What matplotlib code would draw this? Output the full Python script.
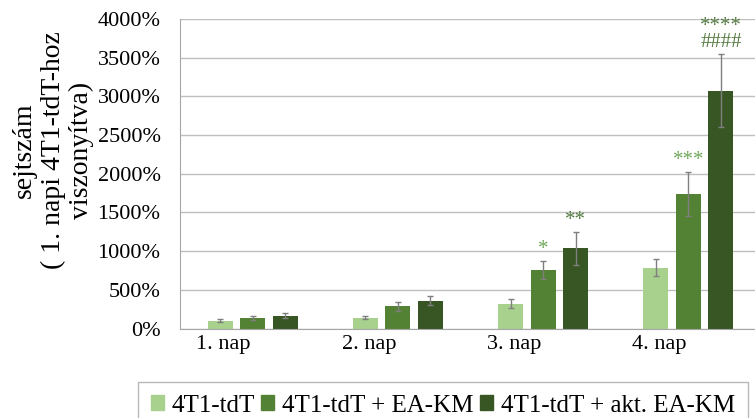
import matplotlib.pyplot as plt
from matplotlib.patches import Patch
import numpy as np

plt.rcParams['font.family'] = ['Liberation Serif', 'DejaVu Serif']

days = ["1. nap", "2. nap", "3. nap", "4. nap"]
series = ["4T1-tdT", "4T1-tdT + EA-KM", "4T1-tdT + akt. EA-KM"]
colors = ["#a9d18e", "#548235", "#375623"]

light = [100, 140, 320, 785]
green = [135, 290, 755, 1740]
dark = [168, 360, 1035, 3075]
light_err = [17, 22, 55, 112]
green_err = [28, 58, 115, 283]
dark_err = [26, 54, 215, 475]

# significance marks: (day index, series index, text)
marks = [(2, 1, "*"), (2, 2, "**"), (3, 1, "***"), (3, 2, "****\n####")]
mark_colors = ["#6fa85a", "#53793f"]

fig = plt.figure(figsize=(7.55, 4.18), dpi=100)
ax = fig.add_axes([180 / 755, 89.5 / 418, 581 / 755, 309.5 / 418])

x = np.arange(len(days))
step = 0.224
width = 0.172
values = [light, green, dark]
errs = [light_err, green_err, dark_err]
for i in range(3):
    ax.bar(x + (i - 1) * step, values[i], width, color=colors[i], zorder=2)
    ax.errorbar(x + (i - 1) * step, values[i], yerr=errs[i], fmt="none",
                ecolor="#7f7f7f", elinewidth=1, capsize=2.5, capthick=1, zorder=3)

for d, s, txt in marks:
    top = values[s][d] + errs[s][d]
    ax.text(x[d] + (s - 1) * step, top + 25, txt, ha="center", va="bottom",
            fontsize=15, color=mark_colors[s - 1], linespacing=0.8)

ax.set_xlim(-0.5, 3.5)
ax.set_ylim(0, 4000)
ax.set_yticks(np.arange(0, 4001, 500))
ax.set_yticklabels([f"{v}%" for v in range(0, 4001, 500)], fontsize=16)
ax.set_xticks(x - 0.2)
ax.set_xticklabels(days, fontsize=16)
ax.tick_params(length=0, pad=5)
ax.tick_params(axis="y", pad=14)
ax.yaxis.grid(True, color="#bfbfbf", linewidth=1, zorder=0)
ax.set_axisbelow(True)
for side in ["top", "right"]:
    ax.spines[side].set_visible(False)
ax.spines["left"].set_color("#a6a6a6")
ax.spines["bottom"].set_color("#a6a6a6")

fig.text(53 / 755, 1 - 150 / 418, "sejtszám\n( 1. napi 4T1-tdT-hoz\nviszonyítva)",
         rotation=90, ha="center", va="center", fontsize=20, linespacing=1.2)

handles = [Patch(color=c) for c in colors]
leg = fig.legend(handles, series, loc="upper left", ncol=3,
                 bbox_to_anchor=(138 / 755, 1 - 382 / 418), fontsize=18,
                 frameon=True, fancybox=False, handlelength=0.52, handleheight=0.52,
                 handletextpad=0.3, columnspacing=0.28, borderpad=0.5, borderaxespad=0)
leg.get_frame().set_edgecolor("#a6a6a6")
leg.get_frame().set_linewidth(1)

fig.savefig("out.png", dpi=100)
